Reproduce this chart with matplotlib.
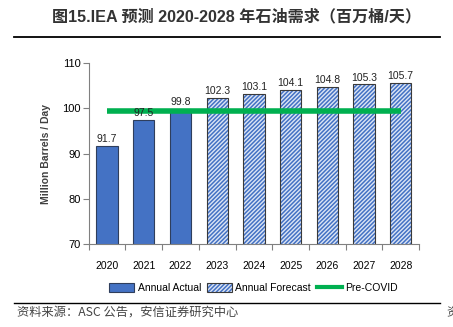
import matplotlib
matplotlib.use("Agg")
from matplotlib import pyplot as plt
from matplotlib.patches import Patch
from matplotlib.lines import Line2D

plt.rcParams['font.family'] = ['Liberation Sans Narrow', 'Liberation Sans', 'Noto Sans CJK SC', 'DejaVu Sans']
plt.rcParams['hatch.linewidth'] = 1.1

years = ['2020', '2021', '2022', '2023', '2024', '2025', '2026', '2027', '2028']
demand = [91.7, 97.5, 99.8, 102.3, 103.1, 104.1, 104.8, 105.3, 105.7]
n_actual = 3
pre_covid = 99.5
title_text = '图15.IEA 预测 2020-2028 年石油需求（百万桶/天）'
source_text = '资料来源：ASC 公告，安信证券研究中心'

blue = '#4472C4'

fig = plt.figure(figsize=(4.53, 3.27), dpi=100)
ax = fig.add_axes([0.196, 0.254, 0.729, 0.553])

x = list(range(len(years)))
ax.bar(x[:n_actual], demand[:n_actual], width=0.58, color=blue,
       edgecolor='#2F3E5C', linewidth=0.8, zorder=2)
# hatch drawn in blue, then a dark outline on top
ax.bar(x[n_actual:], demand[n_actual:], width=0.58, color='#DCE5F5',
       edgecolor=blue, linewidth=0, hatch='////////', zorder=2)
ax.bar(x[n_actual:], demand[n_actual:], width=0.58, fill=False,
       edgecolor='#3A3A3A', linewidth=0.8, zorder=2)
ax.plot([x[0], x[-1]], [pre_covid, pre_covid], color='#00B050', linewidth=4,
        solid_capstyle='butt', zorder=3)

for xi, v in zip(x, demand):
    ax.text(xi, v + 0.4, f'{v:.1f}', ha='center', va='bottom', fontsize=7.5, color='#222222')

ax.set_ylim(70, 110)
ax.set_yticks([70, 80, 90, 100, 110])
ax.set_xlim(-0.5, len(years) - 0.5)
ax.set_xticks([i - 0.5 for i in range(len(years) + 1)])
ax.set_xticklabels([])
ax.set_xticks(x, minor=True)
ax.set_xticklabels(years, minor=True, fontsize=7.5)
ax.tick_params(axis='x', which='minor', length=0, pad=12)
ax.tick_params(axis='x', which='major', length=4, color='#808080', direction='out')
ax.tick_params(axis='y', length=4, color='#808080', labelsize=8, pad=2)
for s in ['top', 'right']:
    ax.spines[s].set_visible(False)
ax.spines['left'].set_color('#808080')
ax.spines['bottom'].set_color('#808080')
ax.set_ylabel('Million Barrels / Day', fontsize=7.5, fontweight='bold', color='#404040',
              family=['Liberation Sans', 'DejaVu Sans'], labelpad=8)

forecast_handle = (
    Patch(facecolor='#DCE5F5', edgecolor=blue, linewidth=0, hatch='////////'),
    Patch(fill=False, edgecolor='#3A3A3A', linewidth=0.8),
)
handles = [
    Patch(facecolor=blue, edgecolor='#2F3E5C', linewidth=0.8),
    forecast_handle,
    Line2D([0], [0], color='#00B050', linewidth=3),
]
fig.legend(handles, ['Annual Actual', 'Annual Forecast', 'Pre-COVID'],
           loc='center', bbox_to_anchor=(0.56, 0.119), ncol=3, frameon=False,
           fontsize=7.5, handlelength=2.4, handleheight=0.9, handletextpad=0.3,
           columnspacing=0.6)

fig.text(0.522, 0.948, title_text, ha='center', va='center', fontsize=11.6,
         fontweight='bold', color='#333333', family=['Liberation Sans', 'Noto Sans CJK SC'])
fig.add_artist(Line2D([0.031, 0.971], [0.887, 0.887], color='black', linewidth=1.3))
fig.add_artist(Line2D([0.031, 0.971], [0.073, 0.073], color='black', linewidth=1.0))
fig.text(0.038, 0.045, source_text, ha='left', va='center', fontsize=8.8,
         style='italic', color='#444444', family=['Noto Sans CJK SC', 'DejaVu Sans'])
fig.text(0.985, 0.045, '资', ha='left', va='center', fontsize=8.8,
         style='italic', color='#444444', family=['Noto Sans CJK SC'])

fig.savefig('out.png', dpi=100)
